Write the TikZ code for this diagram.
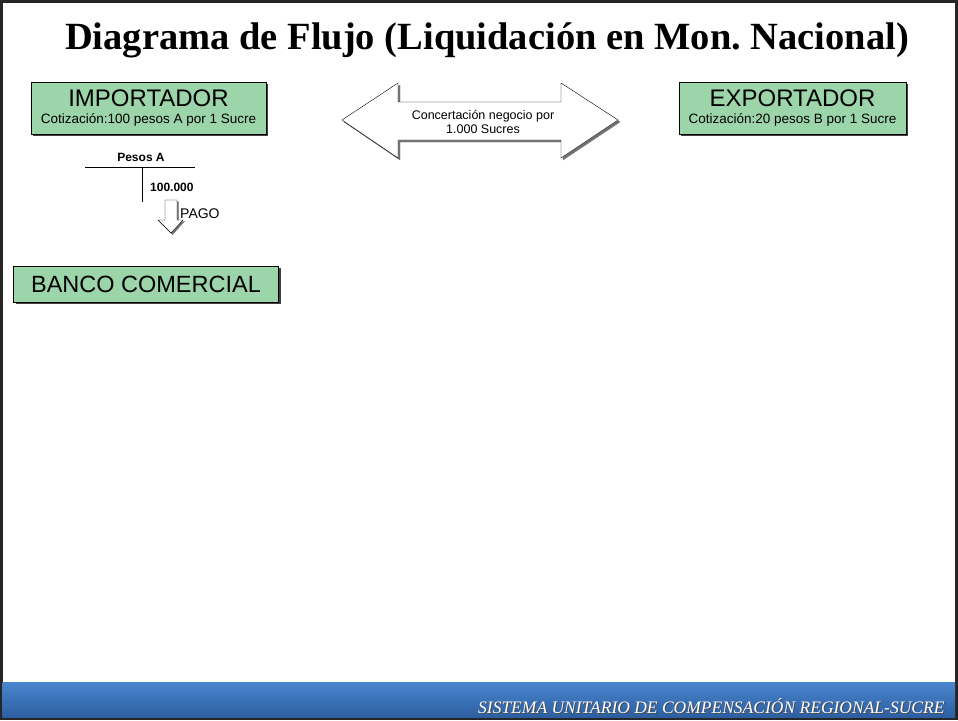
\documentclass[tikz,border=0pt]{standalone}
\usepackage{fontspec}
\setmainfont{Liberation Sans}
\newfontfamily\titlefont{Liberation Serif}
\usetikzlibrary{shadows}

\definecolor{verdecaja}{RGB}{157,213,170}
\definecolor{piearriba}{RGB}{74,134,207}
\definecolor{pieabajo}{RGB}{44,94,160}

\begin{document}
\begin{tikzpicture}[x=1pt,y=-1pt,
  caja/.style={draw=black, fill=verdecaja, inner sep=0pt, align=center,
    drop shadow={shadow xshift=2pt, shadow yshift=-2pt, fill=black!75, opacity=1}},
  chico/.style={font=\fontsize{12}{13}\selectfont, align=center, inner sep=0pt}]
  % Fondo y marco
  \useasboundingbox (0,0) rectangle (958,720);
  \fill[white] (0,0) rectangle (958,720);
  \draw[line width=2.5pt, black!85] (1.25,1.25) rectangle (956.5,718.75);

  % Pie
  \shade[top color=piearriba, bottom color=pieabajo] (2.5,682) rectangle (955,717.5);
  \node[anchor=east, text=black!70, font=\titlefont\itshape\fontsize{17.5}{18}\selectfont] at (949,707) {SISTEMA UNITARIO DE COMPENSACIÓN REGIONAL-SUCRE};
  \node[anchor=east, text=white, font=\titlefont\itshape\fontsize{17.5}{18}\selectfont] (pie) at (948,706) {SISTEMA UNITARIO DE COMPENSACIÓN REGIONAL-SUCRE};

  % Titulo
  \node[font=\titlefont\bfseries\fontsize{38.5}{40}\selectfont] (titulo) at (487,40) {Diagrama de Flujo (Liquidación en Mon.\ Nacional)};

  % Cajas
  \node[caja, minimum width=235pt, minimum height=52pt] (importador) at (148.5,108)
    {\fontsize{24}{24}\selectfont IMPORTADOR\\[5pt] \fontsize{13.5}{14}\selectfont Cotización:100 pesos A por 1 Sucre};
  \node[caja, minimum width=227pt, minimum height=52pt] (exportador) at (792.5,108)
    {\fontsize{24}{24}\selectfont EXPORTADOR\\[5pt] \fontsize{13.5}{14}\selectfont Cotización:20 pesos B por 1 Sucre};
  \node[caja, minimum width=265pt, minimum height=36pt, font=\fontsize{23.5}{25}\selectfont] (banco) at (146,284) {BANCO COMERCIAL};

  % Flecha doble
  \def\izq{342}
  \def\der{618}
  \def\bi{398}
  \def\bd{561}
  \filldraw[black!55, shift={(2,2)}] (\izq,120) -- (\bi,83) -- (\bi,102) -- (\bd,102) -- (\bd,83)
    -- (\der,120) -- (\bd,158) -- (\bd,140) -- (\bi,140) -- (\bi,158) -- cycle;
  \filldraw[fill=white, draw=black] (\izq,120) -- (\bi,83) -- (\bi,102) -- (\bd,102) -- (\bd,83)
    -- (\der,120) -- (\bd,158) -- (\bd,140) -- (\bi,140) -- (\bi,158) -- cycle;
  \node[chico, font=\fontsize{12.5}{13.5}\selectfont] (concertacion) at (483,122) {Concertación negocio por\\1.000 Sucres};

  % Cuenta T
  \node[chico, font=\bfseries\fontsize{12}{13}\selectfont] (pesos) at (141,157) {Pesos A};
  \draw (85,167) -- (195,167);
  \draw (142,167) -- (142,202);
  \node[chico, font=\bfseries\fontsize{12}{13}\selectfont, anchor=west] (monto) at (150,187) {100.000};

  % Pago
  \filldraw[black!55, shift={(1.5,1.5)}] (165,200) -- (177,200) -- (177,220) -- (183,220) -- (171,233)
    -- (158,220) -- (165,220) -- cycle;
  \filldraw[fill=white, draw=black] (165,200) -- (177,200) -- (177,220) -- (183,220) -- (171,233)
    -- (158,220) -- (165,220) -- cycle;
  \node[chico, font=\fontsize{14}{15}\selectfont, anchor=west] (pago) at (180,214) {PAGO};
\end{tikzpicture}
\end{document}
